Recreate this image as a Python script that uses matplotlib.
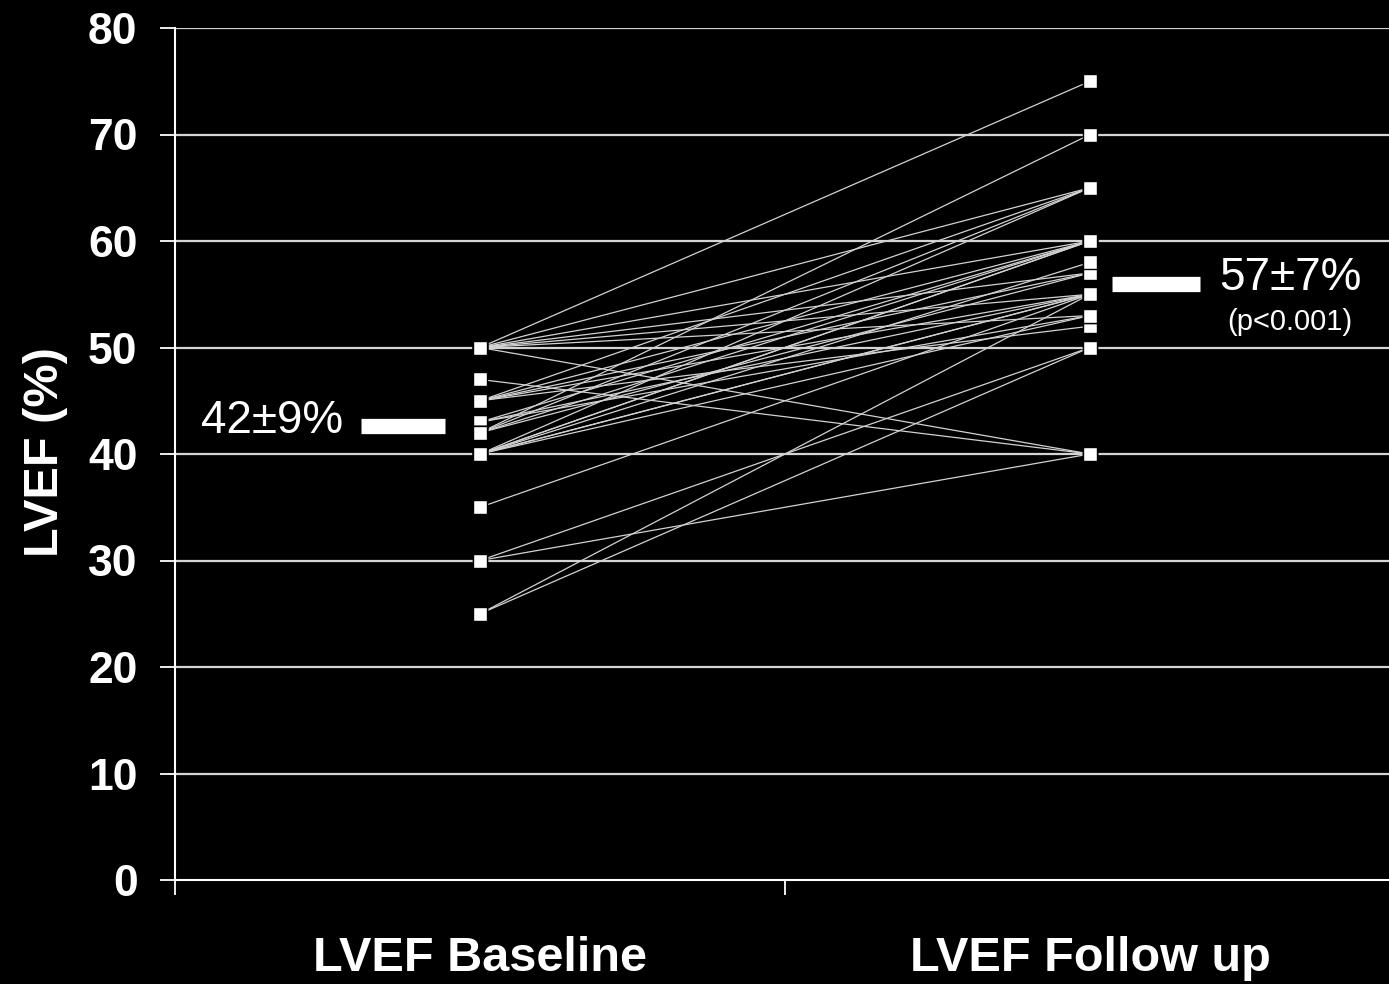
import numpy as np
import matplotlib.pyplot as plt

plt.rcParams['font.family'] = ['Liberation Sans', 'DejaVu Sans']

# categorias del eje x
categories = ["LVEF Baseline", "LVEF Follow up"]

# LVEF de cada paciente
baseline = [50, 50, 50, 50, 50, 50, 50,
            47,
            45, 45, 45, 45, 45,
            43, 43, 43,
            42, 42, 42, 42,
            40, 40, 40, 40, 40, 40, 40,
            35,
            30, 30,
            25, 25]
follow_up = [75, 65, 60, 57, 55, 53, 40,
             40,
             65, 60, 55, 52, 57,
             60, 55, 53,
             70, 65, 57, 60,
             65, 60, 58, 55, 53, 60, 55,
             55,
             50, 40,
             55, 50]
extra_point = [58]      # marca suelta en el seguimiento

# medias (barras blancas) y textos
mean_bar = [42.6, 56.0]
mean_text = ["42±9%", "57±7%"]
p_text = "(p<0.001)"

yticks = [0, 10, 20, 30, 40, 50, 60, 70, 80]

fig = plt.figure(figsize=(13.89, 9.84), dpi=100, facecolor='black')
ax = fig.add_axes([175/1389, 104/984, 1214/1389, 852/984])
ax.set_facecolor('black')

xpos = [0.5, 1.5]

# lineas horizontales de la rejilla
for v in yticks[1:]:
  ax.axhline(v, color='#d4d4d4', lw=1.6, zorder=1)

# una linea por paciente
for b, f in zip(baseline, follow_up):
  ax.plot(xpos, [b, f], color='#d2d2d2', lw=0.9, zorder=2)

# marcas cuadradas
ax.plot([xpos[1]]*len(extra_point), extra_point, 's', color='white', ms=10.5,
        mec='black', mew=1, zorder=3)
ax.plot([xpos[0]]*len(baseline), baseline, 's', color='white', ms=10.5,
        mec='black', mew=1, zorder=3, ls='none')
ax.plot([xpos[1]]*len(follow_up), follow_up, 's', color='white', ms=10.5,
        mec='black', mew=1, zorder=3, ls='none')

# barras de la media
ax.plot([0.305, 0.443], [mean_bar[0]]*2, color='white', lw=11, solid_capstyle='butt', zorder=3)
ax.plot([1.536, 1.680], [mean_bar[1]]*2, color='white', lw=11, solid_capstyle='butt', zorder=3)

ax.text(0.275, 42.0, mean_text[0], color='white', fontsize=33, ha='right', va='baseline')
ax.text(1.828, 55.4, mean_text[1], color='white', fontsize=33, ha='center', va='baseline')
ax.text(1.828, 51.6, p_text, color='white', fontsize=21, ha='center', va='baseline')

ax.set_xlim(0, 1214/610)
ax.set_ylim(0, 80)

for s in ['top', 'right']:
  ax.spines[s].set_visible(False)
for s in ['left', 'bottom']:
  ax.spines[s].set_color('white')
  ax.spines[s].set_linewidth(1.5)

ax.set_yticks(yticks)
ax.set_yticklabels([str(v) for v in yticks], fontsize=32, fontweight='bold', color='white')
ax.tick_params(axis='y', direction='out', length=11, width=1.3, colors='white', pad=16)

ax.set_xticks([0, 1])
ax.set_xticklabels(['', ''])
ax.set_xticks(xpos, minor=True)
ax.set_xticklabels(categories, minor=True, fontsize=35, fontweight='bold', color='white')
ax.tick_params(axis='x', which='major', direction='out', length=11, width=1.3, colors='white')
ax.tick_params(axis='x', which='minor', length=0, pad=40, colors='white')

fig.text(45/1389, (984-452)/984, "LVEF (%)", rotation=90, color='white', fontsize=35,
         fontweight='bold', ha='center', va='center')

fig.savefig('out.png', dpi=100, facecolor='black')
